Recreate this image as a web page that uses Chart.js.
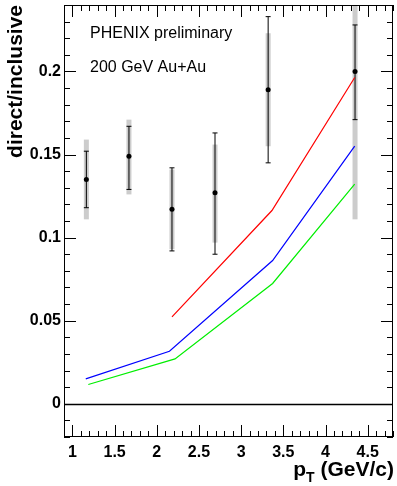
<!DOCTYPE html>
<html>
<head>
<meta charset="utf-8">
<script src="https://cdn.jsdelivr.net/npm/chart.js@4/dist/chart.umd.min.js"></script>
<style>
html,body{margin:0;padding:0;background:#fff;}
canvas{display:block;}
</style>
</head>
<body>
<canvas id="c" width="397" height="486"></canvas>
<script>
// ---- data ----
const pt      = [1.165, 1.67, 2.18, 2.69, 3.32, 4.35];
const ratio   = [0.135, 0.149, 0.117, 0.127, 0.189, 0.200];
const statLo  = [0.118, 0.129, 0.092, 0.090, 0.145, 0.171];
const statHi  = [0.152, 0.167, 0.142, 0.163, 0.233, 0.228];
const sysLo   = [0.111, 0.126, 0.093, 0.097, 0.155, 0.111];
const sysHi   = [0.159, 0.171, 0.141, 0.156, 0.223, 0.245];

const redX   = [2.18, 3.365, 4.346];
const redY   = [0.0523, 0.1163, 0.1964];
const blueX  = [1.158, 2.15, 3.373, 4.346];
const blueY  = [0.0150, 0.0316, 0.0862, 0.1551];
const greenX = [1.188, 2.216, 3.373, 4.346];
const greenY = [0.0116, 0.0270, 0.0724, 0.1322];

const xTicks = [1, 1.5, 2, 2.5, 3, 3.5, 4, 4.5];
const yTicks = [0, 0.05, 0.1, 0.15, 0.2];
const xRange = [0.9, 4.8];
const yRange = [-0.02, 0.24];

const FONT = "'Liberation Sans', Arial, Helvetica, sans-serif";
const toPts = (xs, ys) => xs.map((x, i) => ({x: x, y: ys[i]}));

const framePlugin = {
  id: 'frame',
  beforeDatasetsDraw(chart) {
    const {ctx, chartArea: a, scales: {x, y}} = chart;
    ctx.save();
    // zero line
    ctx.strokeStyle = '#000'; ctx.lineWidth = 1.3;
    const y0 = Math.round(y.getPixelForValue(0)) + 0.5;
    ctx.beginPath(); ctx.moveTo(a.left, y0); ctx.lineTo(a.right, y0); ctx.stroke();
    // error bars
    ctx.beginPath(); ctx.rect(a.left, a.top, a.right - a.left, a.bottom - a.top); ctx.clip();
    pt.forEach((v, i) => {
      const px = x.getPixelForValue(v);
      const sH = y.getPixelForValue(sysHi[i]), sL = y.getPixelForValue(sysLo[i]);
      ctx.fillStyle = '#cccccc';
      ctx.fillRect(px - 2.5, sH, 5, sL - sH);
      const tH = y.getPixelForValue(statHi[i]), tL = y.getPixelForValue(statLo[i]);
      ctx.strokeStyle = '#000'; ctx.lineWidth = 1;
      ctx.beginPath();
      ctx.moveTo(px, tH); ctx.lineTo(px, tL);
      ctx.moveTo(px - 2.5, tH); ctx.lineTo(px + 2.5, tH);
      ctx.moveTo(px - 2.5, tL); ctx.lineTo(px + 2.5, tL);
      ctx.stroke();
    });
    ctx.restore();
  },
  afterDatasetsDraw(chart) {
    const {ctx, chartArea: a, scales: {x, y}} = chart;
    ctx.save();
    ctx.strokeStyle = '#000'; ctx.lineWidth = 1;
    ctx.strokeRect(a.left + 0.5, a.top + 0.5, a.right - a.left - 1, a.bottom - a.top - 1);
    ctx.beginPath();
    // x ticks (minor 0.1)
    for (let k = Math.ceil(xRange[0] * 10); k <= Math.floor(xRange[1] * 10); k++) {
      const v = k / 10;
      const major = (k % 5 === 0);
      const L = major ? 12 : 6;
      const px = Math.round(x.getPixelForValue(v)) + 0.5;
      ctx.moveTo(px, a.bottom); ctx.lineTo(px, a.bottom - L);
      ctx.moveTo(px, a.top); ctx.lineTo(px, a.top + L);
    }
    // y ticks (minor 0.01)
    for (let k = Math.ceil(yRange[0] * 100); k <= Math.floor(yRange[1] * 100); k++) {
      const v = k / 100;
      const major = (k % 5 === 0);
      const L = major ? 12 : 6;
      const py = Math.round(y.getPixelForValue(v)) + 0.5;
      ctx.moveTo(a.left, py); ctx.lineTo(a.left + L, py);
      ctx.moveTo(a.right, py); ctx.lineTo(a.right - L, py);
    }
    ctx.stroke();
    ctx.restore();
  },
  afterDraw(chart) {
    const {ctx} = chart;
    ctx.save();
    ctx.fillStyle = '#000';
    ctx.textBaseline = 'alphabetic';
    // annotations
    ctx.font = '16px ' + FONT;
    ctx.fillText('PHENIX preliminary', 90, 38);
    ctx.fillText('200 GeV Au+Au', 90, 72);
    // x title: p_T (GeV/c)
    const big = 'bold 21px ' + FONT, small = 'bold 14px ' + FONT;
    ctx.font = big; const wRest = ctx.measureText(' (GeV/c)').width;
    const wp = ctx.measureText('p').width;
    ctx.font = small; const wT = ctx.measureText('T').width;
    let xr = 394 - wRest;
    ctx.font = big; ctx.fillText(' (GeV/c)', xr, 476);
    ctx.font = small; ctx.fillText('T', xr - wT, 482);
    ctx.font = big; ctx.fillText('p', xr - wT - wp, 476);
    ctx.restore();
  }
};

new Chart(document.getElementById('c'), {
  type: 'scatter',
  data: {
    datasets: [
      {label: 'direct/inclusive', data: toPts(pt, ratio), showLine: false,
       pointRadius: 2.5, pointBackgroundColor: '#000', pointBorderColor: '#000', pointBorderWidth: 0},
      {label: 'red', data: toPts(redX, redY), showLine: true, pointRadius: 0,
       borderColor: '#ff0000', borderWidth: 1.2, fill: false},
      {label: 'blue', data: toPts(blueX, blueY), showLine: true, pointRadius: 0,
       borderColor: '#0000ff', borderWidth: 1.2, fill: false},
      {label: 'green', data: toPts(greenX, greenY), showLine: true, pointRadius: 0,
       borderColor: '#00ee00', borderWidth: 1.2, fill: false}
    ]
  },
  options: {
    responsive: false,
    animation: false,
    devicePixelRatio: 1,
    layout: {padding: {top: 5, right: 2, left: 0, bottom: 0}},
    plugins: {legend: {display: false}, tooltip: {enabled: false}},
    scales: {
      x: {
        type: 'linear', min: xRange[0], max: xRange[1],
        grid: {display: false, drawTicks: false}, border: {display: false},
        afterBuildTicks: s => { s.ticks = xTicks.map(v => ({value: v})); },
        afterFit: s => { s.height = 49; s.paddingLeft = 0; s.paddingRight = 0; },
        ticks: {padding: 6, color: '#000', maxRotation: 0, autoSkip: false,
                font: {family: FONT, size: 16, weight: 'bold'},
                callback: v => String(v)}
      },
      y: {
        type: 'linear', min: yRange[0], max: yRange[1],
        grid: {display: false, drawTicks: false}, border: {display: false},
        afterBuildTicks: s => { s.ticks = yTicks.map(v => ({value: v})); },
        afterFit: s => { s.width = 64; s.paddingTop = 0; s.paddingBottom = 0; },
        ticks: {padding: 3, color: '#000', autoSkip: false,
                font: {family: FONT, size: 16, weight: 'bold'},
                callback: v => String(v)},
        title: {display: true, text: 'direct/inclusive', align: 'end', color: '#000',
                padding: {top: 4, bottom: 0},
                font: {family: FONT, size: 21, weight: 'bold'}}
      }
    }
  },
  plugins: [framePlugin]
});
</script>
</body>
</html>
